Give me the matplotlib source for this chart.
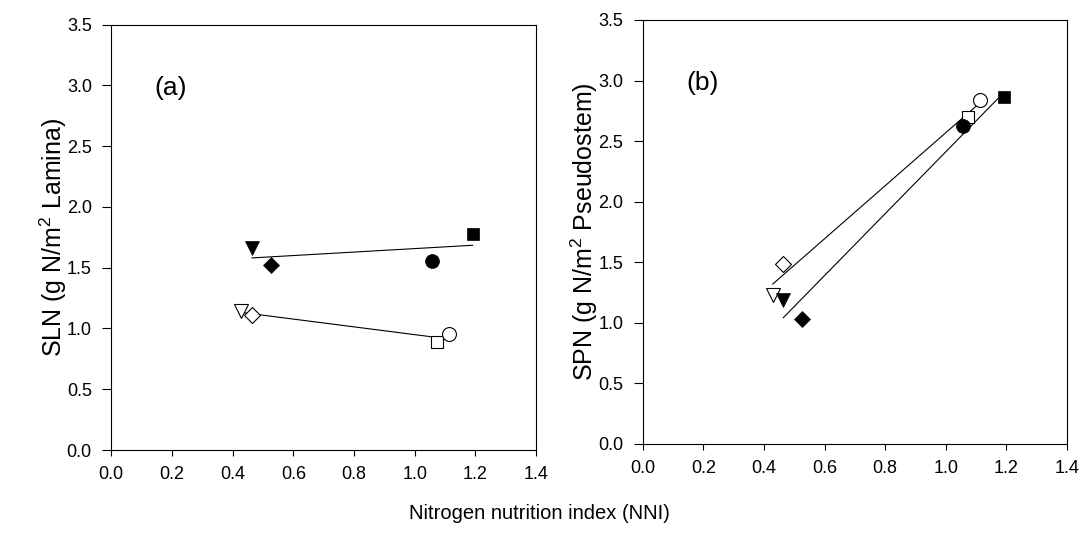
import matplotlib
matplotlib.use('Agg')
import matplotlib.pyplot as plt
import numpy as np

plt.rcParams['font.family'] = ['Liberation Sans', 'DejaVu Sans']
plt.rcParams['mathtext.default'] = 'regular'

# NNI values (x) for the two groups of treatments
nni_open = [0.429, 0.464, 1.074, 1.113]      # open: triangle, diamond, square, circle
nni_filled = [0.464, 0.526, 1.058, 1.191]    # filled: triangle, diamond, circle, square
markers_open = ['v', 'D', 's', 'o']
markers_filled = ['v', 'D', 'o', 's']

# Panel (a): SLN
sln_open = [1.140, 1.115, 0.885, 0.952]
sln_filled = [1.660, 1.525, 1.556, 1.780]

# Panel (b): SPN
spn_open = [1.234, 1.489, 2.701, 2.841]
spn_filled = [1.186, 1.032, 2.625, 2.861]

xticks = [0.0, 0.2, 0.4, 0.6, 0.8, 1.0, 1.2, 1.4]
yticks = [0.0, 0.5, 1.0, 1.5, 2.0, 2.5, 3.0, 3.5]

msize = {'v': 10, 'D': 8.0, 's': 8.6, 'o': 10}

fig = plt.figure(figsize=(10.84, 5.33), dpi=100)
ax_a = fig.add_axes([0.10268, 0.15572, 0.39179, 0.79794])
ax_b = fig.add_axes([0.59290, 0.16698, 0.39142, 0.79550])


def draw_panel(ax, y_open, y_filled, label, ylabel, ylab_x):
    for xs, ys in ((nni_open, y_open), (nni_filled, y_filled)):
        slope, icpt = np.polyfit(xs, ys, 1)
        xl = np.array([min(xs), max(xs)])
        ax.plot(xl, slope * xl + icpt, color='black', lw=0.8, zorder=2)
    for x, y, m in zip(nni_open, y_open, markers_open):
        ax.plot([x], [y], marker=m, ms=msize[m], mfc='white', mec='black',
                mew=0.8, ls='none', zorder=3)
    for x, y, m in zip(nni_filled, y_filled, markers_filled):
        ax.plot([x], [y], marker=m, ms=msize[m], mfc='black', mec='black',
                mew=0.5, ls='none', zorder=3)
    ax.set_xlim(0, 1.4)
    ax.set_ylim(0, 3.5)
    ax.set_xticks(xticks)
    ax.set_yticks(yticks)
    ax.set_xticklabels([f'{t:.1f}' for t in xticks])
    ax.set_yticklabels([f'{t:.1f}' for t in yticks])
    ax.tick_params(axis='y', direction='out', length=6.5, width=0.8,
                   labelsize=13, pad=7.5)
    ax.tick_params(axis='x', direction='out', length=4.3, width=0.8,
                   labelsize=13, pad=7.5)
    for s in ax.spines.values():
        s.set_linewidth(0.8)
        s.set_color('black')
    ax.text(0.143, 2.976, label, fontsize=19, ha='left', va='center')
    ax.set_ylabel(ylabel, fontsize=18)
    ax.yaxis.set_label_coords(ylab_x, 0.5)


draw_panel(ax_a, sln_open, sln_filled, '(a)', 'SLN (g N/m$^2$ Lamina)', -0.0995)
draw_panel(ax_b, spn_open, spn_filled, '(b)', 'SPN (g N/m$^2$ Pseudostem)', -0.1006)

fig.text(0.498, 0.0375, 'Nitrogen nutrition index (NNI)', fontsize=14.5,
         ha='center', va='center')

fig.savefig('out.png', dpi=100)
